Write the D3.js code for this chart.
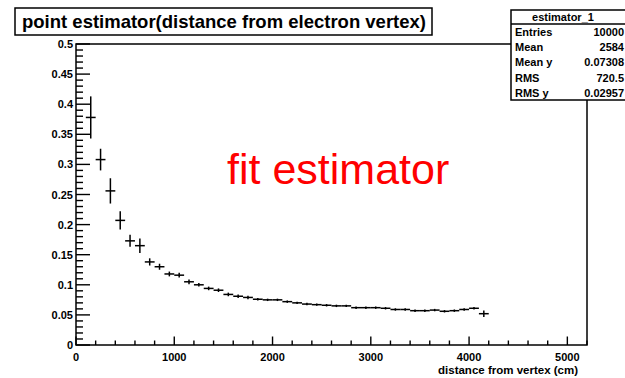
<!DOCTYPE html>
<html><head><meta charset="utf-8">
<script src="https://cdn.jsdelivr.net/npm/d3@7"></script>
<style>html,body{margin:0;padding:0;background:#fff;overflow:hidden}</style>
</head><body>
<script>
// ---- data ----
const binWidth = 100;
const binCenters = [150,250,350,450,550,650,750,850,950,1050,1150,1250,1350,1450,1550,1650,1750,1850,1950,2050,2150,2250,2350,2450,2550,2650,2750,2850,2950,3050,3150,3250,3350,3450,3550,3650,3750,3850,3950,4050,4150];
const values = [0.378,0.308,0.256,0.207,0.173,0.165,0.138,0.130,0.118,0.116,0.105,0.100,0.094,0.091,0.084,0.081,0.079,0.076,0.075,0.075,0.072,0.070,0.068,0.067,0.066,0.065,0.065,0.062,0.062,0.062,0.061,0.059,0.059,0.057,0.057,0.058,0.056,0.057,0.059,0.061,0.052];
const errors = [0.035,0.018,0.021,0.015,0.010,0.012,0.006,0.005,0.004,0.004,0.004,0.003,0.003,0.003,0.003,0.003,0.003,0.002,0.002,0.002,0.002,0.002,0.002,0.002,0.002,0.002,0.002,0.002,0.002,0.002,0.002,0.002,0.002,0.002,0.002,0.002,0.002,0.002,0.002,0.002,0.0055];
const xTickValues = [0,1000,2000,3000,4000,5000];
const yTickValues = [0,0.05,0.1,0.15,0.2,0.25,0.3,0.35,0.4,0.45,0.5];
const yTickLabels = ["0","0.05","0.1","0.15","0.2","0.25","0.3","0.35","0.4","0.45","0.5"];
const titleText = "point estimator(distance from electron vertex)";
const xAxisTitle = "distance from vertex (cm)";
const annotation = "fit estimator";
const statsTitle = "estimator_1";
const statsLabels = ["Entries","Mean","Mean y","RMS","RMS y"];
const statsValues = ["10000","2584","0.07308","720.5","0.02957"];

// ---- drawing ----
const W = 625, H = 378;
const svg = d3.select("body").append("svg").attr("width", W).attr("height", H)
  .style("font-family", "'Liberation Sans', Arial, Helvetica, sans-serif");

const x = d3.scaleLinear().domain([0, 5200]).range([76, 587]);
const y = d3.scaleLinear().domain([0, 0.5]).range([345, 44]);

// frame
svg.append("rect").attr("x", 76).attr("y", 44).attr("width", 587 - 76).attr("height", 345 - 44)
  .attr("fill", "none").attr("stroke", "#000").attr("stroke-width", 1.5);

// x axis ticks (inside, upward)
const xMinor = d3.range(0, 5201, 200);
svg.append("g").selectAll("line").data(xMinor).join("line")
  .attr("x1", d => x(d)).attr("x2", d => x(d))
  .attr("y1", 345).attr("y2", d => xTickValues.includes(d) ? 345 - 8.5 : 345 - 4.5)
  .attr("stroke", "#000").attr("stroke-width", 1.4);
svg.append("g").selectAll("text").data(xTickValues).join("text")
  .attr("x", d => x(d)).attr("y", 361).attr("text-anchor", "middle")
  .attr("font-size", 11).attr("font-weight", "bold").text(d => d);

// y axis ticks (inside, rightward)
const yMinor = d3.range(0, 51).map(i => i / 100);
svg.append("g").selectAll("line").data(yMinor).join("line")
  .attr("x1", 76).attr("x2", (d, i) => i % 5 === 0 ? 76 + 14 : 76 + 7)
  .attr("y1", d => y(d)).attr("y2", d => y(d))
  .attr("stroke", "#000").attr("stroke-width", 1.4);
svg.append("g").selectAll("text").data(yTickValues).join("text")
  .attr("x", 73).attr("y", d => y(d) + 4).attr("text-anchor", "end")
  .attr("font-size", 11).attr("font-weight", "bold").text((d, i) => yTickLabels[i]);

// axis title
svg.append("text").attr("x", 578).attr("y", 374).attr("text-anchor", "end")
  .attr("font-size", 11.5).attr("font-weight", "bold").text(xAxisTitle);

// data: horizontal bin bars + vertical error bars
const pts = binCenters.map((c, i) => ({c, v: values[i], e: errors[i]}));
const g = svg.append("g").attr("stroke", "#000").attr("stroke-width", 1.5);
g.selectAll("line.h").data(pts).join("line").attr("class", "h")
  .attr("x1", d => x(d.c - binWidth / 2)).attr("x2", d => x(d.c + binWidth / 2))
  .attr("y1", d => y(d.v)).attr("y2", d => y(d.v));
g.selectAll("line.v").data(pts).join("line").attr("class", "v")
  .attr("x1", d => x(d.c)).attr("x2", d => x(d.c))
  .attr("y1", d => y(d.v - d.e)).attr("y2", d => y(d.v + d.e));

// annotation
svg.append("text").attr("x", 227).attr("y", 184).attr("fill", "#ff0000")
  .attr("font-size", 43).text(annotation);

// title box
svg.append("rect").attr("x", 15).attr("y", 8).attr("width", 417).attr("height", 27)
  .attr("fill", "#fff").attr("stroke", "#000").attr("stroke-width", 1.5);
svg.append("text").attr("x", 22).attr("y", 28).attr("font-size", 18.5).attr("font-weight", "bold")
  .text(titleText);

// stats box
svg.append("rect").attr("x", 511).attr("y", 10).attr("width", 140).attr("height", 90)
  .attr("fill", "#fff").attr("stroke", "#000").attr("stroke-width", 1.5);
svg.append("line").attr("x1", 511).attr("x2", 651).attr("y1", 24).attr("y2", 24)
  .attr("stroke", "#000").attr("stroke-width", 1.5);
svg.append("text").attr("x", 563).attr("y", 21).attr("text-anchor", "middle")
  .attr("font-size", 11).attr("font-weight", "bold").text(statsTitle);
statsLabels.forEach((lab, i) => {
  const yy = 36 + i * 15.2;
  svg.append("text").attr("x", 515).attr("y", yy).attr("font-size", 11).attr("font-weight", "bold").text(lab);
  svg.append("text").attr("x", 624).attr("y", yy).attr("text-anchor", "end").attr("font-size", 11).attr("font-weight", "bold").text(statsValues[i]);
});
</script>
</body></html>
